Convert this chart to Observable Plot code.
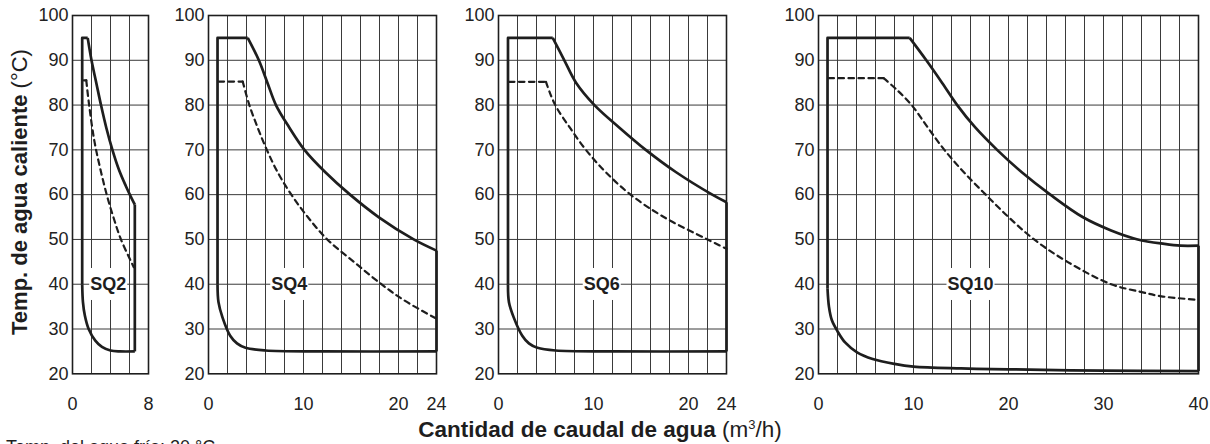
<!DOCTYPE html>
<html><head><meta charset="utf-8">
<script src="https://cdn.jsdelivr.net/npm/d3@7"></script>
<script src="https://cdn.jsdelivr.net/npm/@observablehq/plot@0.6"></script>
<style>
html,body{margin:0;padding:0;background:#fff;overflow:hidden;}
#chart{position:relative;width:1210px;height:444px;overflow:hidden;font-family:"Liberation Sans",Arial,Helvetica,sans-serif;}
#chart svg{position:absolute;top:0;}
</style></head><body><div id="chart"></div>
<script>
// ---------- data ----------
const panelNames = ["SQ2", "SQ4", "SQ6", "SQ10"];
const panelXMax = [8, 24, 24, 40];
const panelXTicks = [[0, 8], [0, 10, 20, 24], [0, 10, 20, 24], [0, 10, 20, 30, 40]];
const yTicks = [20, 30, 40, 50, 60, 70, 80, 90, 100];
const yGrid = [30, 40, 50, 60, 70, 80, 90];
const gridStep = 2;
const labelXs = [3.76, 8.5, 10.87, 16.0];
const labelY = 40;

// SQ2
const sq2Left = [[1.02, 40], [1.02, 95], [1.6, 95]];
const sq2Max = [[1.6, 95], [2.0, 90], [2.5, 85], [3.0, 80], [3.55, 75], [4.2, 70], [4.9, 65.5], [5.6, 62], [6.2, 59.3], [6.56, 57.8]];
const sq2Min = [[1.02, 40], [1.1, 36], [1.3, 33], [1.7, 30], [2.4, 27.4], [3.1, 26], [4.0, 25.2], [5.0, 25.0], [6.56, 25.0]];
const sq2Right = [[6.56, 25.0], [6.56, 57.8]];
const sq2DashTop = [[1.2, 85.5], [1.45, 85.5]];
const sq2Dash = [[1.45, 85.5], [1.75, 80], [2.3, 72], [2.9, 66], [3.6, 60], [4.3, 55], [5.1, 50], [6.45, 43.8]];

// SQ4
const sq4Left = [[0.95, 40], [0.95, 95], [4.13, 95]];
const sq4Max = [[4.13, 95], [5.3, 90], [6.2, 85], [7.1, 80], [8.5, 75], [10.1, 70], [12.3, 65], [14.9, 60], [17.9, 55], [21.6, 50], [24, 47.5]];
const sq4Min = [[0.95, 40], [1.05, 36], [1.47, 32.6], [2.28, 28.5], [3.0, 26.8], [3.9, 25.8], [6, 25.2], [12, 25.0], [24, 25.0]];
const sq4Right = [[24, 25.0], [24, 47.5]];
const sq4DashTop = [[1.06, 85.25], [3.6, 85.25]];
const sq4Dash = [[3.6, 85.25], [4.3, 80], [5.17, 75], [6.14, 70], [7.28, 65], [8.72, 60], [10.45, 55], [12.5, 50], [15.3, 45], [18.2, 40], [20.6, 36.4], [24, 32.3]];

// SQ6
const sq6Left = [[1.0, 40], [1.0, 95], [5.71, 95]];
const sq6Max = [[5.71, 95], [6.93, 90], [8.16, 85], [10.1, 80], [12.7, 75], [15.5, 70], [18.7, 65], [22.5, 60], [24, 58.3]];
const sq6Min = [[1.0, 40], [1.1, 36], [1.6, 32.6], [2.5, 28.5], [3.2, 26.8], [4.1, 25.8], [6, 25.2], [12, 25.0], [24, 25.0]];
const sq6Right = [[24, 25.0], [24, 58.3]];
const sq6DashTop = [[1.1, 85.2], [5.0, 85.2]];
const sq6Dash = [[5.0, 85.2], [5.45, 82.5], [6.1, 79.5], [7.5, 75], [9.2, 70], [11.3, 65], [13.9, 60], [17.4, 55], [22.0, 50], [24, 47.9]];

// SQ10
const sq10Left = [[0.95, 39], [0.95, 95], [9.6, 95]];
const sq10Max = [[9.6, 95], [11.35, 90], [13.0, 85], [14.6, 80], [16.5, 75], [18.8, 70], [21.4, 65], [24.4, 60], [27.8, 55], [30.8, 52], [33.6, 50], [36.4, 49], [38.1, 48.6], [40, 48.6]];
const sq10Min = [[0.95, 39], [1.1, 35], [1.4, 32], [2.0, 29.5], [2.8, 27], [4.06, 24.8], [5.7, 23.3], [8, 22.2], [10, 21.6], [15, 21.2], [20, 21.0], [30, 20.7], [40, 20.6]];
const sq10Right = [[40, 20.6], [40, 48.6]];
const sq10DashTop = [[1.05, 86], [6.85, 86]];
const sq10Dash = [[6.85, 86], [8.2, 83.5], [9.8, 80], [11.5, 75], [13.25, 70], [15.3, 65], [17.6, 60], [20.0, 55], [22.7, 50], [26.2, 45], [30.8, 40], [33.9, 38.3], [36.1, 37.3], [40, 36.5]];

const shapes = [
  {left: sq2Left, max: sq2Max, min: sq2Min, right: sq2Right, dashTop: sq2DashTop, dash: sq2Dash},
  {left: sq4Left, max: sq4Max, min: sq4Min, right: sq4Right, dashTop: sq4DashTop, dash: sq4Dash},
  {left: sq6Left, max: sq6Max, min: sq6Min, right: sq6Right, dashTop: sq6DashTop, dash: sq6Dash},
  {left: sq10Left, max: sq10Max, min: sq10Min, right: sq10Right, dashTop: sq10DashTop, dash: sq10Dash}
];

// ---------- layout ----------
const FONT = '"Liberation Sans", Arial, Helvetica, sans-serif';
const panelLeft = [72.3, 208.3, 497.5, 818];
const pxPerUnit = 9.5;
const ML = 50, MR = 16, MT = 15, H = 444, MB = 444 - 373.3;
const INK = "#1e1e1e";

const chart = document.getElementById("chart");

panelNames.forEach((name, i) => {
  const s = shapes[i];
  const xMax = panelXMax[i];
  const frameW = xMax * pxPerUnit;
  const solid = {stroke: INK, strokeWidth: 2.7, strokeLinejoin: "round", strokeLinecap: "butt"};
  const dashed = {stroke: INK, strokeWidth: 2.2, strokeDasharray: "5.5,4.5"};
  const plot = Plot.plot({
    width: frameW + ML + MR,
    height: H,
    marginLeft: ML, marginRight: MR, marginTop: MT, marginBottom: MB,
    x: {domain: [0, xMax]},
    y: {domain: [20, 100]},
    style: {fontFamily: FONT, fontSize: "18px", color: "#222", background: "transparent", overflow: "visible"},
    marks: [
      Plot.ruleX(d3.range(gridStep, xMax, gridStep), {stroke: "#3a3a3a", strokeWidth: 1}),
      Plot.ruleY(yGrid, {stroke: "#3a3a3a", strokeWidth: 1}),
      Plot.text([{x: labelXs[i], y: labelY, t: name}], {x: "x", y: "y", text: "t", fontWeight: "bold", fontSize: 18, fill: INK}),
      Plot.frame({stroke: INK, strokeWidth: 1.6}),
      Plot.axisX(panelXTicks[i], {tickSize: 0, tickPadding: 23, label: null}),
      Plot.axisY(yTicks, {tickSize: 0, tickPadding: 4, label: null}),
      Plot.line(s.left, {...solid, curve: "linear"}),
      Plot.line(s.right, {...solid, curve: "linear"}),
      Plot.line(s.max, {...solid, curve: "catmull-rom"}),
      Plot.line(s.min, {...solid, curve: "catmull-rom"}),
      Plot.line(s.dashTop, {...dashed, curve: "linear"}),
      Plot.line(s.dash, {...dashed, curve: "catmull-rom"})
    ]
  });
  plot.style.left = (panelLeft[i] - ML) + "px";
  chart.appendChild(plot);
  // white box behind the model label
  plot.querySelectorAll('g[aria-label="text"] text').forEach(t => {
    const b = t.getBBox();
    const r = document.createElementNS("http://www.w3.org/2000/svg", "rect");
    const cy = b.y + b.height / 2;
    r.setAttribute("x", b.x - 1);
    r.setAttribute("width", b.width + 2);
    r.setAttribute("y", cy - 16);
    r.setAttribute("height", 32);
    r.setAttribute("fill", "#fff");
    const tr = t.getAttribute("transform");
    if (tr) r.setAttribute("transform", tr);
    t.parentNode.insertBefore(r, t);
  });
});

// ---------- titles ----------
const over = d3.select(chart).append("svg")
  .attr("width", 1210).attr("height", 470)
  .style("left", "0px").style("pointer-events", "none")
  .style("font-family", FONT).style("overflow", "visible");

const yt = over.append("text")
  .attr("transform", "translate(26.5,192) rotate(-90)")
  .attr("text-anchor", "middle").attr("font-size", 22).attr("fill", INK);
yt.append("tspan").attr("font-weight", "bold").text("Temp. de agua caliente");
yt.append("tspan").text(" (°C)");

const xt = over.append("text")
  .attr("x", 600).attr("y", 437)
  .attr("text-anchor", "middle").attr("font-size", 22.5).attr("fill", INK);
xt.append("tspan").attr("font-weight", "bold").text("Cantidad de caudal de agua");
xt.append("tspan").text(" (m");
xt.append("tspan").attr("font-size", 13).attr("dy", -8).text("3");
xt.append("tspan").attr("dy", 8).text("/h)");

over.append("text").attr("x", 6).attr("y", 453).attr("font-size", 18).attr("fill", INK)
  .text("Temp. del agua fría: 20 °C");
</script>
</body></html>
